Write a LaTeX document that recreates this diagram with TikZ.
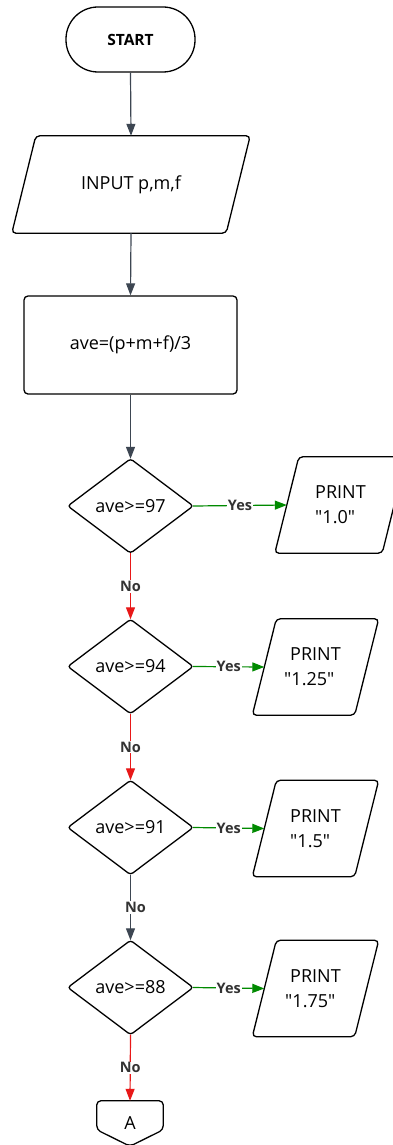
\documentclass[tikz,border=0pt]{standalone}
\usepackage{fontspec}
\setmainfont{Open Sans}[Ligatures=TeXOff]
\usetikzlibrary{arrows.meta}
\definecolor{linegray}{HTML}{3D4652}
\definecolor{yesgreen}{HTML}{008A00}
\definecolor{nored}{HTML}{E81818}
\definecolor{labgray}{HTML}{333333}
\newcommand{\dq}{\char34\relax}
\begin{document}
\begin{tikzpicture}[x=1pt,y=-1pt,
  box/.style={rectangle, inner sep=0pt, font=\fontsize{18}{25}\selectfont},
  outline/.style={draw=black, line width=1.3pt, rounded corners=4pt},
  conn/.style={line width=1.2pt, -{Triangle[length=12pt,width=9pt]}},
  flow/.style={conn, draw=linegray},
  nopath/.style={conn, draw=nored},
  yespath/.style={conn, draw=yesgreen},
  lab/.style={fill=white, inner sep=1pt, text=labgray, font=\fontsize{14.5}{15}\selectfont\bfseries},
  decision/.style={box, minimum width=125pt, minimum height=94pt},
  printbox/.style={box, align=left, minimum height=96pt}
]
\useasboundingbox (0,0) rectangle (392,1145);
\fill[white] (0,0) rectangle (392,1145);

% terminal
\node[box, draw, line width=1.3pt, rounded corners=32pt, minimum width=129pt, minimum height=65pt,
      font=\fontsize{15.5}{16}\selectfont\bfseries] (start) at (130.5,39.5) {START};

% input
\node[box, minimum width=214pt, minimum height=97pt] (input) at (131,184.5) {INPUT p,m,f};
\draw[outline] ([xshift=12pt]input.north west) -- ([xshift=12pt]input.north east)
  -- ([xshift=-12pt]input.south east) -- ([xshift=-12pt]input.south west) -- cycle;

% process
\node[box, draw, line width=1.3pt, rounded corners=4pt, minimum width=213pt, minimum height=98pt]
  (proc) at (130.5,345) {ave=(p+m+f)/3};

% decisions
\node[decision] (d1) at (130.5,506) {ave>=97};
\node[decision] (d2) at (130.5,666.5) {ave>=94};
\node[decision] (d3) at (130.5,827.5) {ave>=91};
\node[decision] (d4) at (130.5,987.5) {ave>=88};
\foreach \d in {d1,d2,d3,d4}{
  \draw[outline, rounded corners=3pt] (\d.north) -- (\d.east) -- (\d.south) -- (\d.west) -- cycle;
}

% prints
\node[printbox, minimum width=107pt] (p1) at (340.5,505) {PRINT\\\dq1.0\dq};
\node[printbox, minimum width=102pt] (p2) at (315.5,667) {PRINT\\\hspace*{-6pt}\dq1.25\dq};
\node[printbox, minimum width=102pt] (p3) at (315.5,828.5) {PRINT\\\dq1.5\dq};
\node[printbox, minimum width=102pt] (p4) at (315.5,988.5) {PRINT\\\hspace*{-5pt}\dq1.75\dq};
\foreach \p in {p1,p2,p3,p4}{
  \draw[outline] ([xshift=12pt]\p.north west) -- ([xshift=12pt]\p.north east)
    -- ([xshift=-12pt]\p.south east) -- ([xshift=-12pt]\p.south west) -- cycle;
}

% off-page connector
\node[box, minimum width=66pt, minimum height=45pt] (A) at (130,1123.5) {A};
\draw[outline] (A.north west) -- (A.north east) -- ([yshift=-29pt]A.north east)
  -- (A.south) -- ([yshift=-29pt]A.north west) -- cycle;

% connectors
\draw[flow] (start.south) -- (input.north);
\draw[flow] (input.south) -- (proc.north);
\draw[flow] (proc.south) -- (d1.north);
\draw[nopath] (d1.south) -- node[lab]{No} (d2.north);
\draw[nopath] (d2.south) -- node[lab]{No} (d3.north);
\draw[flow] (d3.south) -- node[lab, xshift=5pt]{No} (d4.north);
\draw[nopath] (d4.south) -- node[lab]{No} (A.north);
\draw[yespath] (d1.east) -- node[lab]{Yes} (p1.west);
\draw[yespath] (d2.east) -- node[lab]{Yes} (p2.west);
\draw[yespath] (d3.east) -- node[lab]{Yes} (p3.west);
\draw[yespath] (d4.east) -- node[lab]{Yes} (p4.west);
\end{tikzpicture}
\end{document}
